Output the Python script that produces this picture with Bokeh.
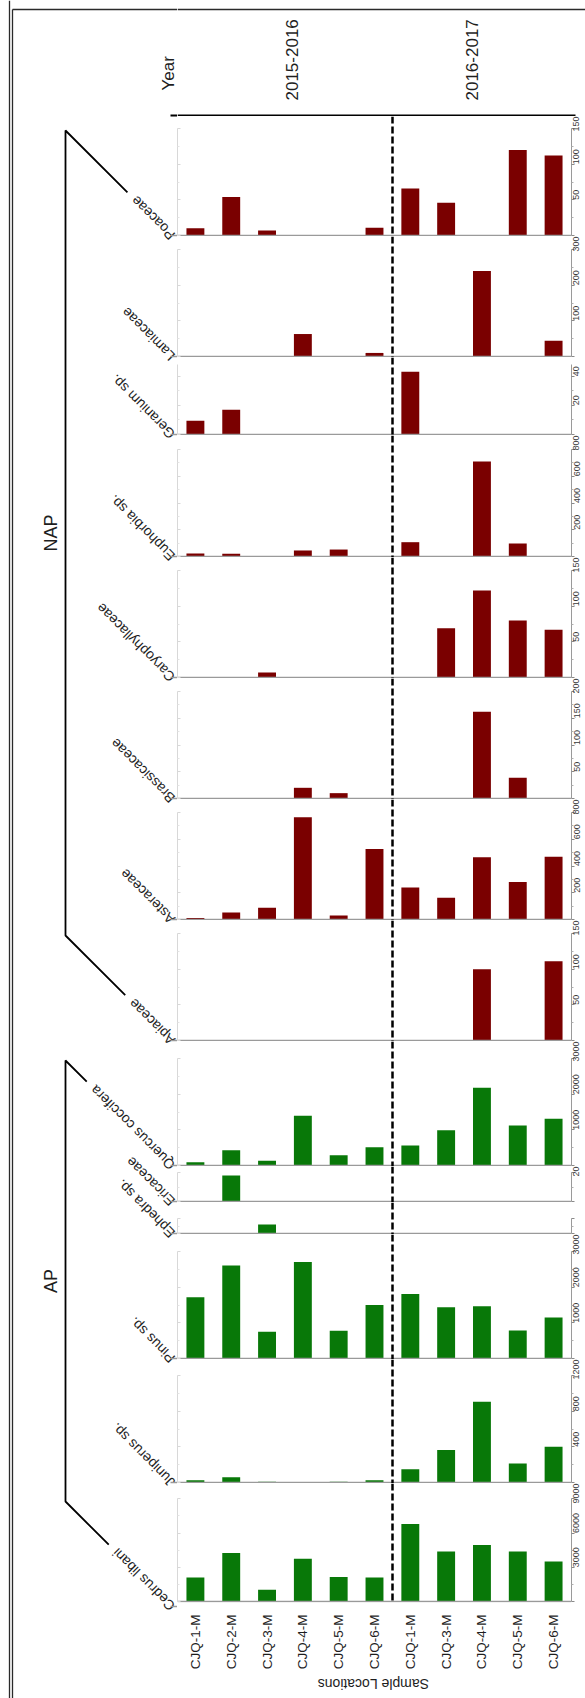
import math
from bokeh.plotting import figure
from bokeh.layouts import column, row
from bokeh.models import Range1d, LinearAxis, FixedTicker, ColumnDataSource
from bokeh.core.properties import value
from bokeh.embed import file_html
from bokeh.resources import INLINE

# ---------------- data ----------------
samples = ["CJQ-1-M", "CJQ-2-M", "CJQ-3-M", "CJQ-4-M", "CJQ-5-M", "CJQ-6-M",
           "CJQ-1-M", "CJQ-3-M", "CJQ-4-M", "CJQ-5-M", "CJQ-6-M"]
n_first_year = 6
years = ["2015-2016", "2016-2017"]

taxa = ["Poaceae", "Lamiaceae", "Geranium sp.", "Euphorbia sp.", "Caryophyllaceae",
        "Brassicaceae", "Asteraceae", "Apiaceae", "Quercus coccifera", "Ericaceae",
        "Ephedra sp.", "Pinus sp.", "Juniperus sp.", "Cedrus libani"]
groups = ["NAP"] * 8 + ["AP"] * 6

poaceae = [10, 54, 7, 0, 0, 11, 66, 46, 0, 120, 112]
lamiaceae = [0, 0, 0, 63, 0, 10, 0, 0, 240, 0, 44]
geranium = [9.5, 17, 0, 0, 0, 0, 43, 0, 0, 0, 0]
euphorbia = [22, 20, 0, 45, 52, 0, 107, 0, 710, 97, 0]
caryophyllaceae = [0, 0, 7, 0, 0, 0, 0, 69, 122, 80, 67]
brassicaceae = [0, 0, 0, 20, 10, 0, 0, 0, 162, 39, 0]
asteraceae = [12, 52, 88, 765, 30, 528, 240, 163, 465, 280, 470]
apiaceae = [0, 0, 0, 0, 0, 0, 0, 0, 100, 0, 111]
quercus = [93, 430, 131, 1393, 290, 514, 561, 991, 2178, 1121, 1308]
ericaceae = [0, 18, 0, 0, 0, 0, 0, 0, 0, 0, 0]
ephedra = [0, 0, 6, 0, 0, 0, 0, 0, 0, 0, 0]
pinus = [1716, 2606, 750, 2709, 778, 1500, 1809, 1434, 1463, 788, 1153]
juniperus = [26, 60, 8, 0, 8, 26, 150, 364, 907, 214, 401]
cedrus = [2100, 4250, 1030, 3745, 2150, 2100, 6790, 4390, 4950, 4390, 3520]

series = [poaceae, lamiaceae, geranium, euphorbia, caryophyllaceae, brassicaceae,
          asteraceae, apiaceae, quercus, ericaceae, ephedra, pinus, juniperus, cedrus]

axis_max = [150, 300, 48, 800, 150, 200, 800, 150, 3000, 20, 10, 3000, 1200, 9000]
tick_step = [50, 100, 20, 200, 50, 50, 200, 50, 1000, 20, 10, 1000, 400, 3000]
show_labels = [True] * 10 + [False] + [True] * 3

# ---------------- layout / style ----------------
PAGE_W, PAGE_H = 585, 1698
HEADER_H = 116
LEFT_W = 177
PANEL_W = PAGE_W - LEFT_W
axis_px = [107, 107, 70, 107, 107, 107, 107, 107, 107, 29, 15, 107, 107, 107]
frame_px = [120, 121, 78, 122, 121, 121, 121, 121, 125, 36, 32, 125, 124, 124]
BOTTOM_AXIS_H = 65
FOOTER_H = PAGE_H - HEADER_H - sum(frame_px) - BOTTOM_AXIS_H

COLORS = {"NAP": "#7a0000", "AP": "#087808"}
FONT = value("Liberation Sans")
TXT = "#1e1e1e"
FRAME_C = "#2a2a2a"

bases = []
acc = HEADER_H
for fh in frame_px:
    acc += fh
    bases.append(acc - 1)

# ---------------- left side (frame, year title, labels, brackets) ----------------
left = figure(width=LEFT_W, height=PAGE_H, x_range=Range1d(0, LEFT_W), y_range=Range1d(0, PAGE_H),
              x_axis_location=None, y_axis_location=None, toolbar_location=None,
              output_backend="svg", min_border=0, outline_line_color=None)
left.xgrid.visible = False
left.ygrid.visible = False
ly = lambda ypx: PAGE_H - ypx
left.segment(x0=[9, 12, 12], y0=[ly(0), ly(9), ly(9)], x1=[9, 12, LEFT_W], y1=[0, 0, ly(9)],
             line_color=FRAME_C, line_width=1.3)
left.segment(x0=[170], y0=[ly(115)], x1=[LEFT_W], y1=[ly(115)], line_color="black", line_width=2)
left.text(x=[168], y=[ly(90)], text=["Year"], angle=math.pi / 2, text_align="left",
          text_baseline="middle", text_font=FONT, text_font_size="17px", text_color=TXT)

LAB_X = 172
LAB_FS = 14
left.text(x=[LAB_X] * len(taxa), y=[ly(b + 2) for b in bases], text=taxa, angle=3 * math.pi / 4,
          text_align="left", text_baseline="middle", text_font=FONT, text_font_size=f"{LAB_FS}px",
          text_color=TXT)
left.segment(x0=[170] * len(bases), y0=[ly(b) for b in bases], x1=[LEFT_W] * len(bases),
             y1=[ly(b) for b in bases], line_color="#9a9a9a", line_width=1.5)

AW = {' ': .278, '.': .278, 'A': .667, 'B': .667, 'C': .722, 'E': .667, 'G': .778, 'J': .5, 'L': .556,
      'P': .667, 'Q': .778, 'a': .556, 'b': .556, 'c': .5, 'd': .556, 'e': .556, 'f': .278, 'h': .556,
      'i': .222, 'l': .222, 'm': .833, 'n': .556, 'o': .556, 'p': .556, 'r': .333, 's': .5, 't': .278,
      'u': .556, 'y': .5}


def text_w(s):
    return sum(AW.get(c, .55) for c in s) * LAB_FS


BR_X = 65
for g in ["NAP", "AP"]:
    idx = [i for i, gg in enumerate(groups) if gg == g]
    top_i, bot_i = idx[0], idx[-1]
    pts = []
    for i in (top_i, bot_i):
        b = bases[i] + 2
        x_end = LAB_X - 0.7071 * text_w(taxa[i]) - 6
        pts.append(((x_end, b - (LAB_X - x_end)), (BR_X, b - (LAB_X - BR_X))))
    (e1, c1), (e2, c2) = pts
    xs = [e1[0], c1[0], c2[0], e2[0]]
    ys = [ly(e1[1]), ly(c1[1]), ly(c2[1]), ly(e2[1])]
    left.line(x=xs, y=ys, line_color="black", line_width=1.8)
    left.text(x=[50], y=[ly((c1[1] + c2[1]) / 2)], text=[g], angle=math.pi / 2, text_align="center",
              text_baseline="middle", text_font=FONT, text_font_size="18px", text_color=TXT)

# ---------------- header (year row above the panels) ----------------
header = figure(width=PANEL_W, height=HEADER_H, x_range=Range1d(LEFT_W, PAGE_W), y_range=Range1d(0, HEADER_H),
                x_axis_location=None, y_axis_location=None, toolbar_location=None,
                output_backend="svg", min_border=0, outline_line_color=None, frame_align=False)
header.xgrid.visible = False
header.ygrid.visible = False
hy = lambda ypx: HEADER_H - ypx
header.segment(x0=[LEFT_W], y0=[hy(9)], x1=[PAGE_W], y1=[hy(9)], line_color=FRAME_C, line_width=1.3)
header.segment(x0=[LEFT_W], y0=[hy(115)], x1=[575], y1=[hy(115)], line_color="black", line_width=2)
year_x = [291, 471]
header.text(x=year_x, y=[hy(100), hy(100)], text=years, angle=math.pi / 2, text_align="left",
            text_baseline="middle", text_font=FONT, text_font_size="17px", text_color=TXT)

# ---------------- panels ----------------
x_idx = list(range(len(samples)))
xr = Range1d(-0.5, len(samples) - 0.5)
divider = n_first_year - 0.5

panels = []
for k, (name, vals) in enumerate(zip(taxa, series)):
    last = k == len(taxa) - 1
    unit = axis_max[k] / axis_px[k]
    yr = Range1d(-unit * 1, unit * (frame_px[k] - 1))
    p = figure(width=PANEL_W, height=frame_px[k] + (BOTTOM_AXIS_H if last else 0), x_range=xr, y_range=yr,
               x_axis_location="below" if last else None, y_axis_location=None,
               toolbar_location=None, output_backend="svg",
               min_border_left=0, min_border_right=0, min_border_top=0,
               min_border_bottom=BOTTOM_AXIS_H if last else 0, outline_line_color=None)
    p.xgrid.visible = False
    p.ygrid.visible = False
    src = ColumnDataSource(dict(x=x_idx, top=vals))
    p.vbar(x="x", top="top", width=0.5, source=src, fill_color=COLORS[groups[k]], line_color=None)
    p.hspan(y=[0], line_color="#9a9a9a", line_width=1.5)
    p.vspan(x=[divider], line_color="black", line_width=2.5, line_dash="7 3")

    step = tick_step[k]
    majors = []
    v = 0
    while v <= axis_max[k] + 1e-9:
        majors.append(v)
        v += step
    minors = [m + step / 2 for m in majors if m + step / 2 < axis_max[k]]
    overrides = {m: "" for m in majors if (m == 0 or not show_labels[k])}
    rax = LinearAxis(ticker=FixedTicker(ticks=majors, minor_ticks=minors), bounds=(0, axis_max[k]),
                     major_label_orientation=math.pi / 2, major_label_text_font_size="9px",
                     major_label_text_font="Liberation Sans", major_label_text_color="#3a3a3a",
                     major_label_standoff=2, major_tick_out=3, major_tick_in=0,
                     minor_tick_out=2, minor_tick_in=0, axis_line_color="#9a9a9a",
                     major_tick_line_color="#8a8a8a", minor_tick_line_color="#b0b0b0",
                     major_label_overrides=overrides)
    p.add_layout(rax, "right")
    lax = LinearAxis(ticker=FixedTicker(ticks=majors, minor_ticks=minors), bounds=(0, axis_max[k]),
                     major_label_text_font_size="0px", major_label_standoff=0,
                     major_tick_out=0, major_tick_in=3, minor_tick_out=0, minor_tick_in=2,
                     axis_line_color="#d8d8d8", major_tick_line_color="#d8d8d8",
                     minor_tick_line_color="#e4e4e4",
                     major_label_overrides={m: "" for m in majors})
    p.add_layout(lax, "left")
    if last:
        ax = p.xaxis[0]
        ax.ticker = FixedTicker(ticks=x_idx)
        ax.major_label_overrides = {i: s for i, s in enumerate(samples)}
        ax.major_label_orientation = math.pi / 2
        ax.major_label_text_font_size = "13.5px"
        ax.major_label_text_font = "Liberation Sans"
        ax.major_label_text_color = TXT
        ax.major_label_standoff = 6
        ax.major_tick_line_color = None
        ax.minor_tick_line_color = None
        ax.axis_line_color = None
    panels.append(p)

footer = figure(width=PANEL_W, height=FOOTER_H, x_range=Range1d(0, PANEL_W), y_range=Range1d(0, FOOTER_H),
                x_axis_location=None, y_axis_location=None, toolbar_location=None,
                output_backend="svg", min_border=0, outline_line_color=None, frame_align=False)
footer.xgrid.visible = False
footer.ygrid.visible = False
footer.text(x=[PANEL_W * 0.48], y=[FOOTER_H - 11], text=["Sample Locations"], angle=math.pi,
            text_align="center", text_baseline="middle", text_font=FONT, text_font_size="14px",
            text_color=TXT)

layout = row(left, column(header, *panels, footer))
open("out.html", "w").write(file_html(layout, INLINE))
